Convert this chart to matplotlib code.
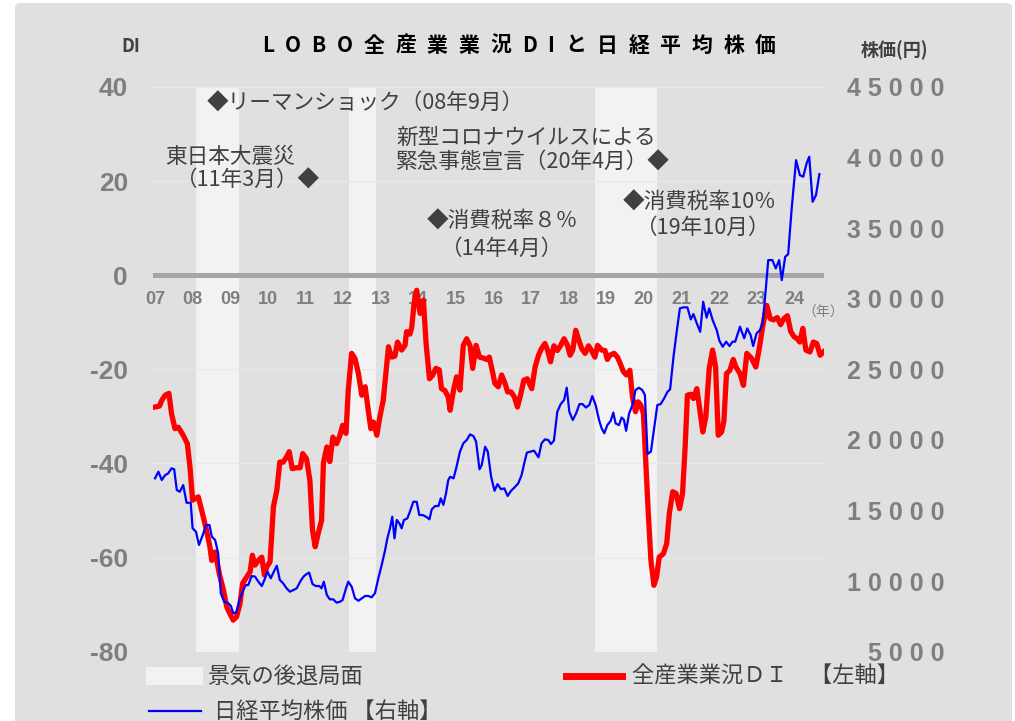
import matplotlib
matplotlib.use("Agg")
import matplotlib.pyplot as plt
from matplotlib.patches import FancyBboxPatch, Rectangle
from matplotlib.lines import Line2D

plt.rcParams['font.family'] = ['Noto Sans CJK JP', 'DejaVu Sans']

# LOBO 全産業業況DI (左軸)
di_years = [
    2007.00, 2007.12, 2007.18, 2007.27, 2007.37, 2007.44, 2007.53, 2007.62, 2007.75, 2007.86,
    2007.93, 2008.00, 2008.15, 2008.24, 2008.37, 2008.46, 2008.51, 2008.60, 2008.71, 2008.82,
    2008.91, 2008.99, 2009.08, 2009.17, 2009.26, 2009.33, 2009.44, 2009.53, 2009.59, 2009.66,
    2009.75, 2009.84, 2009.91, 2009.97, 2010.06, 2010.15, 2010.24, 2010.32, 2010.41, 2010.50,
    2010.57, 2010.65, 2010.77, 2010.86, 2010.93, 2011.03, 2011.12, 2011.19, 2011.26, 2011.34,
    2011.43, 2011.48, 2011.57, 2011.65, 2011.73, 2011.83, 2011.92, 2011.99, 2012.08, 2012.14,
    2012.23, 2012.32, 2012.41, 2012.50, 2012.59, 2012.66, 2012.74, 2012.81, 2012.90, 2012.98,
    2013.07, 2013.14, 2013.21, 2013.29, 2013.38, 2013.45, 2013.56, 2013.65, 2013.69, 2013.78,
    2013.83, 2013.89, 2013.96, 2014.05, 2014.14, 2014.21, 2014.30, 2014.38, 2014.47, 2014.56,
    2014.62, 2014.71, 2014.80,
    2014.85, 2014.94, 2015.02, 2015.11, 2015.20, 2015.29, 2015.38, 2015.45, 2015.54, 2015.63,
    2015.73, 2015.82, 2015.89, 2015.95, 2016.04, 2016.13, 2016.22, 2016.31, 2016.38, 2016.47,
    2016.56, 2016.64, 2016.73, 2016.81, 2016.90, 2017.02, 2017.11, 2017.20, 2017.28, 2017.37,
    2017.44, 2017.52, 2017.61, 2017.70, 2017.79, 2017.88, 2017.97, 2018.04, 2018.11, 2018.19,
    2018.26, 2018.35, 2018.44, 2018.53, 2018.61, 2018.70, 2018.77, 2018.88, 2018.97, 2019.03,
    2019.10, 2019.21, 2019.30, 2019.38, 2019.46, 2019.54, 2019.63, 2019.70, 2019.78, 2019.85,
    2019.92, 2019.99, 2020.06, 2020.12, 2020.19, 2020.27, 2020.34, 2020.41, 2020.52, 2020.61,
    2020.68, 2020.77, 2020.86, 2020.95, 2021.03, 2021.10, 2021.16, 2021.25, 2021.32, 2021.41,
    2021.48, 2021.57, 2021.65, 2021.74, 2021.83, 2021.91, 2021.98, 2022.07, 2022.13, 2022.20,
    2022.29, 2022.38, 2022.45,
    2022.56, 2022.65, 2022.74, 2022.87, 2022.98, 2023.07, 2023.16, 2023.27, 2023.36, 2023.45,
    2023.55, 2023.64, 2023.73, 2023.82, 2023.91, 2024.00, 2024.08, 2024.15, 2024.23, 2024.31,
    2024.42, 2024.51, 2024.60, 2024.69, 2024.78,
]
di_values = [
    -28.0, -27.8, -26.6, -25.5, -25.1, -29.4, -32.6, -32.3, -34.0, -35.8,
    -40.7, -47.8, -47.1, -49.9, -54.2, -57.7, -60.6, -58.8, -63.4, -66.9,
    -70.5, -71.9, -73.3, -72.6, -69.8, -65.5, -64.1, -63.0, -59.5, -61.6,
    -60.6, -59.9, -63.7, -62.0, -60.9, -49.2, -45.7, -39.7, -39.7, -38.6,
    -37.5, -41.1, -40.9, -40.9, -37.9, -39.0, -43.6, -54.2, -57.7, -54.9,
    -52.1, -39.9, -36.5, -39.6, -34.4, -35.8, -34.0, -31.9, -33.6, -24.4,
    -16.6, -17.7, -20.9, -25.5, -23.7, -28.0, -32.6, -31.2, -34.0, -30.1,
    -26.6, -20.9, -15.2, -17.4, -17.2, -14.2, -15.9, -14.9, -12.0, -12.5,
    -11.0, -6.0, -3.2, -8.1, -5.3, -14.5, -22.0, -21.3, -19.8, -20.1,
    -24.1, -24.5, -25.9,
    -28.7, -24.4, -21.6, -24.4, -14.9, -13.5, -15.0, -19.8, -14.9, -17.4,
    -17.6, -17.9, -17.4, -19.5, -23.0, -23.7, -21.2, -23.0, -24.8, -24.8,
    -25.9, -28.0, -25.2, -22.3, -22.0, -24.1, -19.5, -17.0, -15.6, -14.5,
    -15.9, -18.4, -15.0, -16.0, -14.9, -13.5, -14.9, -17.0, -15.9, -11.7,
    -13.5, -15.6, -16.6, -15.0, -16.0, -17.4, -14.9, -15.9, -16.0, -17.9,
    -17.0, -16.6, -17.4, -18.9, -20.5, -21.2, -20.2, -25.9, -29.0, -26.9,
    -27.6, -29.4, -40.7, -50.6, -60.6, -65.9, -64.1, -59.9, -59.2, -57.0,
    -50.6, -46.0, -46.4, -49.6, -46.4, -36.5, -25.5, -25.3, -26.2, -24.1,
    -28.0, -33.3, -30.1, -19.8, -15.9, -19.5, -34.0, -33.3, -31.0, -20.9,
    -20.2, -17.9, -19.5,
    -20.9, -23.4, -16.6, -17.7, -19.5, -15.6, -11.0, -6.4, -9.2, -9.5,
    -9.0, -10.5, -9.2, -8.6, -12.0, -13.1, -13.5, -14.2, -11.3, -15.9,
    -16.3, -14.2, -14.5, -17.0, -16.3,
]

# 日経平均株価 (右軸, 円)
nk_years = [
    2007.00, 2007.09, 2007.18, 2007.27, 2007.35, 2007.44, 2007.51, 2007.58, 2007.66, 2007.75,
    2007.84, 2007.95, 2008.00, 2008.09, 2008.17, 2008.27, 2008.36, 2008.45, 2008.51, 2008.60,
    2008.68, 2008.75, 2008.84, 2008.95, 2009.02, 2009.08, 2009.17, 2009.26, 2009.35, 2009.41,
    2009.48, 2009.57, 2009.66, 2009.75, 2009.84, 2009.91, 2009.99, 2010.08, 2010.16, 2010.24,
    2010.32, 2010.41, 2010.50, 2010.59, 2010.68, 2010.77, 2010.86, 2010.95, 2011.03, 2011.10,
    2011.19, 2011.28, 2011.37, 2011.43, 2011.49, 2011.57, 2011.65, 2011.74, 2011.83, 2011.92,
    2011.99, 2012.08, 2012.14, 2012.23, 2012.32, 2012.41, 2012.50, 2012.59, 2012.67, 2012.76,
    2012.85, 2012.94, 2013.03, 2013.12, 2013.18, 2013.25, 2013.31, 2013.37, 2013.43, 2013.50,
    2013.56, 2013.62, 2013.71, 2013.78, 2013.87, 2013.96, 2014.03, 2014.12, 2014.21, 2014.30,
    2014.36, 2014.45, 2014.54, 2014.60, 2014.67, 2014.74, 2014.80,
    2014.85, 2014.94, 2015.02, 2015.11, 2015.20, 2015.29, 2015.38, 2015.47, 2015.54, 2015.63,
    2015.69, 2015.78, 2015.85, 2015.94, 2016.03, 2016.11, 2016.20, 2016.29, 2016.38, 2016.47,
    2016.56, 2016.66, 2016.75, 2016.81, 2016.89, 2016.97, 2017.08, 2017.20, 2017.28, 2017.37,
    2017.46, 2017.53, 2017.61, 2017.70, 2017.79, 2017.88, 2017.95, 2018.02, 2018.11, 2018.20,
    2018.29, 2018.37, 2018.46, 2018.55, 2018.63, 2018.72, 2018.81, 2018.88, 2018.95, 2019.03,
    2019.12, 2019.19, 2019.25, 2019.34, 2019.41, 2019.47, 2019.53, 2019.61, 2019.70, 2019.78,
    2019.87, 2019.96, 2020.03, 2020.10, 2020.19, 2020.27, 2020.36, 2020.45, 2020.54, 2020.63,
    2020.70, 2020.79, 2020.87, 2020.96, 2021.05, 2021.16, 2021.25, 2021.32, 2021.41, 2021.50,
    2021.58, 2021.67, 2021.74, 2021.83, 2021.94, 2022.01, 2022.10, 2022.19, 2022.28, 2022.36,
    2022.43,
    2022.56, 2022.67, 2022.75, 2022.84, 2022.91, 2023.00, 2023.09, 2023.16, 2023.22, 2023.31,
    2023.42, 2023.51, 2023.60, 2023.67, 2023.76, 2023.84, 2023.93, 2024.05, 2024.15, 2024.24,
    2024.33, 2024.40, 2024.49, 2024.58, 2024.67,
]
nk_values = [
    17280, 17750, 17160, 17510, 17630, 17990, 17920, 16450, 16330, 16800,
    15550, 15550, 13740, 13500, 12560, 13260, 13970, 13970, 13150, 12910,
    11970, 9140, 8540, 8430, 8240, 7720, 7800, 8780, 9370, 9720,
    9720, 10360, 10320, 9960, 9650, 10080, 10670, 10200, 10670, 11090,
    10080, 9840, 9490, 9250, 9370, 9490, 9960, 10320, 10500, 10600,
    9790, 9650, 9650, 9490, 9960, 9020, 8710, 8710, 8470, 8540,
    8660, 9490, 9960, 9610, 8780, 8610, 8780, 8950, 8950, 8850,
    9140, 10200, 11140, 12200, 13030, 13740, 14560, 13030, 14330, 14090,
    13740, 14330, 14440, 14920, 15620, 15620, 14680, 14680, 14560, 14380,
    15080, 15320, 15320, 15860, 15400, 16220, 17160,
    17390, 17280, 18100, 19160, 19760, 19990, 20390, 20270, 19880, 17920,
    18220, 19520, 19180, 17390, 16400, 16870, 16510, 16570, 16030, 16400,
    16630, 16920, 17510, 18220, 19100, 19160, 19240, 18770, 19760, 20040,
    19990, 19710, 19950, 22000, 22540, 22820, 23700, 22000, 21410, 21880,
    22540, 22540, 22300, 22470, 23110, 22470, 21410, 20820, 20470, 21050,
    21350, 21940, 21170, 21050, 21590, 21440, 20650, 21880, 22470, 23530,
    23700, 23530, 23180, 19000, 19180, 20710, 22470, 22540, 22940, 23410,
    23580, 25890, 27550, 29320, 29390, 29390, 28540, 28920, 28260, 27660,
    29790, 28660, 29320, 28500, 27780, 27030, 26600, 26960, 26650, 26960,
    26960,
    28020, 27200, 27900, 27430, 26650, 27550, 27780, 28260, 29900, 32740,
    32740, 32150, 32740, 31320, 32970, 33160, 36280, 39820, 38760, 38640,
    39590, 40060, 36870, 37340, 38830,
]

# 景気の後退局面
recession_start = [2008.09, 2012.17, 2018.71]
recession_end = [2009.23, 2012.88, 2020.35]

year_ticks = list(range(2007, 2025))
year_labels = ['%02d' % (y % 100) for y in year_ticks]
di_ticks = [-80, -60, -40, -20, 0, 20, 40]
nk_ticks = [5000, 10000, 15000, 20000, 25000, 30000, 35000, 40000, 45000]

W, H = 1015, 721
fig = plt.figure(figsize=(W / 100, H / 100), dpi=100)
fig.patch.set_facecolor('white')
fig.patches.append(FancyBboxPatch((15 / W, -0.05), (1012 - 15) / W, 1.05 - 3 / H,
                                  boxstyle='round,pad=0,rounding_size=0.006',
                                  transform=fig.transFigure, facecolor='#e0e0e0',
                                  edgecolor='none', zorder=-10))

ax = fig.add_axes([153 / W, 1 - 651.7 / H, 671 / W, (651.7 - 87) / H])
ax.set_facecolor('none')
ax.set_xlim(2006.947, 2024.793)
ax.set_ylim(-80, 40)
for s in ax.spines.values():
    s.set_visible(False)
ax.set_xticks([])
ax.set_yticks(di_ticks)
ax.set_yticklabels([str(v) for v in di_ticks], fontsize=19, fontweight='bold',
                   color='#7f7f7f', family='Liberation Sans')
ax.tick_params(axis='y', length=0, pad=18)

for a, b in zip(recession_start, recession_end):
    ax.axvspan(a, b, color='#f2f2f2', lw=0, zorder=1)
for v in di_ticks:
    if v != 0:
        ax.axhline(v, color='#e8e8e8', lw=1, zorder=1.5)
ax.axhline(0, color='#a6a6a6', lw=3.6, zorder=2)

for yr, lab in zip(year_ticks, year_labels):
    ax.text(yr, -5.1, lab, ha='center', va='center', fontsize=13, fontweight='bold',
            color='#7f7f7f', family='Liberation Sans', zorder=3)

ax.plot(di_years, di_values, color='#ff0000', lw=3.8, solid_joinstyle='round', zorder=4)

ax2 = ax.twinx()
ax2.set_ylim(5000, 45000)
for s in ax2.spines.values():
    s.set_visible(False)
ax2.set_yticks(nk_ticks)
ax2.set_yticklabels([' '.join(str(v)) for v in nk_ticks], fontsize=18, fontweight='bold',
                    color='#7f7f7f', family='Liberation Sans')
for t in ax2.get_yticklabels():
    t.set_horizontalalignment('right')
ax2.tick_params(axis='y', length=0, pad=87)
ax2.plot(nk_years, nk_values, color='#0000ff', lw=1.6, zorder=4)

# 注記
note_kw = dict(ha='left', va='center', fontsize=15.6, color='#404040')
ax.text(2008.38, 36.5, '◆リーマンショック（08年9月）', **note_kw)
ax.text(2007.27, 25.1, '東日本大震災', **note_kw)
ax.text(2007.55, 20.2, '（11年3月）◆', **note_kw)
ax.text(2013.41, 29.1, '新型コロナウイルスによる', **note_kw)
ax.text(2013.41, 24.0, '緊急事態宣言（20年4月）◆', **note_kw)
ax.text(2014.23, 11.3, '◆消費税率８％', **note_kw)
ax.text(2014.60, 5.7, '（14年4月）', **note_kw)
ax.text(2019.45, 15.5, '◆消費税率10％', **note_kw)
ax.text(2019.78, 10.0, '（19年10月）', **note_kw)

# タイトル (字間を空ける)
renderer = fig.canvas.get_renderer()
title = 'LOBO全産業業況DIと日経平均株価'
arts = [fig.text(0, 1 - 45 / H, c, ha='left', va='center', fontsize=15,
                 fontweight='bold', color='black') for c in title]
widths = [a.get_window_extent(renderer).width for a in arts]
gap = ((776 - 262) - sum(widths)) / (len(title) - 1)
x = 262
for a, w in zip(arts, widths):
    a.set_x(x / W)
    x += w + gap

fig.text(131 / W, 1 - 46 / H, 'DI', ha='center', va='center', fontsize=13,
         fontweight='bold', color='#404040')
fig.text(894 / W, 1 - 50 / H, '株価(円)', ha='center', va='center', fontsize=13,
         fontweight='bold', color='#404040')
fig.text(823 / W, 1 - 313 / H, '（年）', ha='center', va='center', fontsize=10,
         color='#7f7f7f')

# 凡例
fig.patches.append(Rectangle((146 / W, 1 - 685 / H), 57 / W, 18 / H,
                             transform=fig.transFigure, facecolor='#f2f2f2',
                             edgecolor='none'))
fig.text(207 / W, 1 - 676 / H, '景気の後退局面', ha='left', va='center',
         fontsize=16, color='#404040')
fig.add_artist(Line2D([566 / W, 622 / W], [1 - 676 / H] * 2, color='#ff0000', lw=5,
                      transform=fig.transFigure))
fig.text(632 / W, 1 - 676 / H, '全産業業況ＤＩ　【左軸】', ha='left', va='center',
         fontsize=16, color='#404040')
fig.add_artist(Line2D([149 / W, 201 / W], [1 - 711 / H] * 2, color='#0000ff', lw=1.6,
                      transform=fig.transFigure))
fig.text(214 / W, 1 - 711 / H, '日経平均株価 【右軸】', ha='left', va='center',
         fontsize=16, color='#404040')

fig.savefig('out.png', dpi=100)
